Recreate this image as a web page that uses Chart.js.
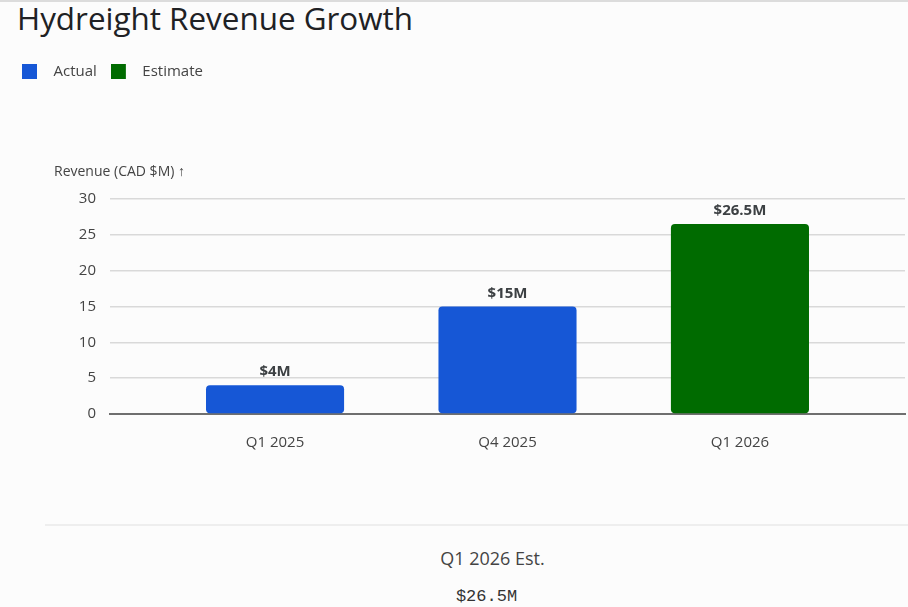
<!DOCTYPE html>
<html>
<head>
<meta charset="utf-8">
<script src="https://cdn.jsdelivr.net/npm/chart.js@4.4.1/dist/chart.umd.min.js"></script>
<style>
  html, body { margin: 0; padding: 0; }
  body {
    width: 908px; height: 607px; overflow: hidden; position: relative;
    background: #fcfcfc; border-top: 2px solid #dcdcdc; box-sizing: border-box;
    font-family: "Open Sans", Roboto, sans-serif;
  }
  .title { position: absolute; left: 17px; top: 0; font-size: 31.4px; line-height: 1; color: #202124; }
  .chart-box { position: absolute; left: 0; top: 0; width: 908px; height: 470px; }
  .divider { position: absolute; left: 45px; right: 0; top: 522px; border-top: 2px solid #eeeeee; }
  .foot-label { position: absolute; left: 0; width: 985px; top: 547px; line-height: 1; text-align: center; font-size: 18px; color: #444; }
  .foot-value { position: absolute; left: 0; width: 973px; top: 586px; line-height: 1; text-align: center; font-size: 17px; color: #333;
    font-family: "Liberation Mono", "DejaVu Sans Mono", monospace; }
</style>
</head>
<body>
<div class="title">Hydreight Revenue Growth</div>
<div class="chart-box"><canvas id="chart"></canvas></div>
<div class="divider"></div>
<div class="foot-label" id="footLabel"></div>
<div class="foot-value" id="footValue"></div>

<script>
const quarters = ["Q1 2025", "Q4 2025", "Q1 2026"];
const actual = [4, 15, null];
const estimate = [null, null, 26.5];
const valueLabels = ["$4M", "$15M", "$26.5M"];
const yTicks = [0, 5, 10, 15, 20, 25, 30];
const axisTitle = "Revenue (CAD $M) \u2191";
const footerLabel = "Q1 2026 Est.";
const footerValue = "$26.5M";

const BLUE = "#1657d6";
const GREEN = "#006b00";
const FONT = "'Open Sans', Roboto, sans-serif";

document.getElementById("footLabel").textContent = footerLabel;
document.getElementById("footValue").textContent = footerValue;

const toPoints = (arr) =>
  arr.map((v, i) => (v === null ? null : { x: i, y: v })).filter(Boolean);

// legend swatch: 15px square at the left of a wider transparent box,
// so the label text sits a little further from the square
function swatch(color) {
  const c = document.createElement("canvas");
  c.width = 24;
  c.height = 15;
  const g = c.getContext("2d");
  g.fillStyle = color;
  g.fillRect(0, 0, 15, 15);
  return c;
}

// push the plot area down below the legend, leaving room for the axis title
const legendSpace = {
  id: "legendSpace",
  beforeInit(chart) {
    const fit = chart.legend.fit;
    chart.legend.fit = function () {
      fit.bind(chart.legend)();
      this.height = 149;
    };
  },
};

const barLabels = {
  id: "barLabels",
  afterDatasetsDraw(chart) {
    const ctx = chart.ctx;
    ctx.save();
    ctx.font = "bold 15px " + FONT;
    ctx.fillStyle = "#3c4043";
    ctx.textAlign = "center";
    ctx.textBaseline = "alphabetic";
    chart.data.datasets.forEach((ds, di) => {
      chart.getDatasetMeta(di).data.forEach((bar, j) => {
        const idx = ds.data[j].x;
        ctx.fillText(valueLabels[idx], bar.x, bar.y - 9);
      });
    });

    ctx.font = "14px " + FONT;
    ctx.fillStyle = "#444";
    ctx.textAlign = "left";
    ctx.textBaseline = "middle";
    ctx.fillText(axisTitle, 54, chart.chartArea.top - 27);
    ctx.restore();
  },
};

new Chart(document.getElementById("chart"), {
  type: "bar",
  data: {
    datasets: [
      {
        label: "Actual",
        data: toPoints(actual),
        backgroundColor: BLUE,
        pointStyle: swatch(BLUE),
        borderRadius: 4,
        borderSkipped: false,
      },
      {
        label: "Estimate",
        data: toPoints(estimate),
        backgroundColor: GREEN,
        pointStyle: swatch(GREEN),
        borderRadius: 4,
        borderSkipped: false,
      },
    ],
  },
  options: {
    responsive: true,
    maintainAspectRatio: false,
    animation: false,
    layout: { padding: { left: 8, right: 3, top: 48, bottom: 0 } },
    datasets: {
      bar: { grouped: false, barPercentage: 0.594, categoryPercentage: 1 },
    },
    plugins: {
      title: { display: false },
      tooltip: { enabled: false },
      legend: {
        position: "top",
        align: "start",
        labels: {
          usePointStyle: true,
          pointStyleWidth: 24,
          boxHeight: 15,
          padding: 14,
          color: "#444",
          font: { family: FONT, size: 15 },
        },
      },
    },
    scales: {
      x: {
        type: "linear",
        offset: false,
        min: -0.71,
        max: 2.71,
        grid: { display: false },
        border: { display: true, color: "#6f6f6f", width: 2 },
        afterBuildTicks: (scale) => {
          scale.ticks = quarters.map((_, i) => ({ value: i }));
        },
        afterFit: (scale) => {
          scale.height = 58;
        },
        ticks: {
          padding: 12,
          color: "#444",
          font: { family: FONT, size: 15 },
          callback: (v) => quarters[v],
        },
      },
      y: {
        min: 0,
        max: 30,
        afterBuildTicks: (scale) => {
          scale.ticks = yTicks.map((v) => ({ value: v }));
        },
        afterFit: (scale) => {
          scale.width = 102;
        },
        grid: { color: "#d9d9d9", lineWidth: 1.5, drawTicks: false },
        border: { display: false },
        ticks: {
          padding: 14,
          color: "#444",
          font: { family: FONT, size: 15 },
        },
      },
    },
  },
  plugins: [legendSpace, barLabels],
});
</script>
</body>
</html>
